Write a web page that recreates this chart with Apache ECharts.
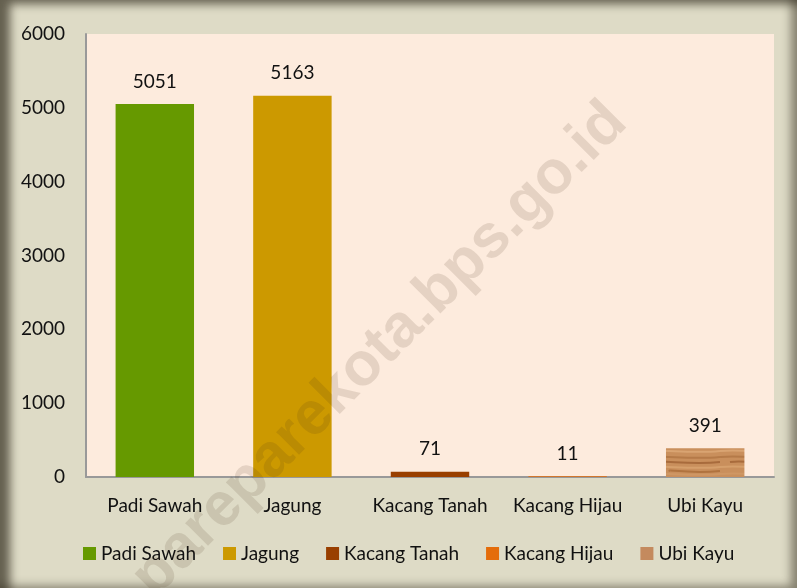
<!DOCTYPE html>
<html>
<head>
<meta charset="utf-8">
<script src="https://cdn.jsdelivr.net/npm/echarts@6/dist/echarts.min.js"></script>
<style>
  html, body { margin: 0; padding: 0; background: #fff; }
  #frame {
    width: 797px; height: 588px; position: relative; overflow: hidden;
    background: #dedbc6;
    box-shadow: inset 14px 8px 10px -4px rgba(60,55,40,0.75), inset -10px -6px 10px -4px rgba(60,55,40,0.55);
  }
  #main { position: absolute; left: 0; top: 0; width: 797px; height: 588px; }
</style>
</head>
<body>
<div id="frame"><div id="main"></div></div>
<script>
// data
var categories = ['Padi Sawah', 'Jagung', 'Kacang Tanah', 'Kacang Hijau', 'Ubi Kayu'];
var values = [5051, 5163, 71, 11, 391];
var yTicks = [0, 1000, 2000, 3000, 4000, 5000, 6000];

// wood-like texture for Ubi Kayu
function woodPattern() {
  var c = document.createElement('canvas');
  c.width = 80; c.height = 28;
  var g = c.getContext('2d');
  g.fillStyle = '#c98f5c';
  g.fillRect(0, 0, 80, 28);
  var streaks = [[0, 3, '#d9a472'], [0, 9, '#b57a48'], [10, 14, '#a86b3c'], [0, 19, '#d6a06c'], [30, 23, '#b0733f'], [0, 26, '#cf9764']];
  streaks.forEach(function(s) {
    g.strokeStyle = s[2];
    g.lineWidth = 2;
    g.beginPath();
    g.moveTo(s[0], s[1]);
    g.bezierCurveTo(25, s[1] - 2, 50, s[1] + 3, 80, s[1]);
    g.stroke();
  });
  return c;
}

var colors = ['#669900', '#cc9900', '#993f00', '#e46c0a', {image: woodPattern(), repeat: 'repeat'}];
var legendColors = ['#669900', '#cc9900', '#993f00', '#e46c0a', '#c48a5e'];

var FONT = 'Lato';
var FS = 19;

var series = categories.map(function(name, i) {
  var d = categories.map(function(c, j) { return j === i ? values[i] : '-'; });
  return {
    name: name,
    type: 'bar',
    stack: 'all',
    barWidth: '57%',
    data: d,
    itemStyle: { color: colors[i] },
    label: {
      show: true,
      position: 'top',
      distance: 13,
      color: '#111',
      fontSize: FS,
      fontFamily: FONT
    }
  };
});

var myChart = echarts.init(document.getElementById('main'), null, {renderer: 'canvas'});
var option = {
  backgroundColor: 'transparent',
  animation: false,
  color: legendColors,
  grid: {
    left: 86, right: 23, top: 34, bottom: 111,
    show: true,
    backgroundColor: '#fdebdd',
    borderWidth: 0
  },
  legend: {
    bottom: 20,
    left: 78,
    icon: 'rect',
    itemWidth: 13,
    itemHeight: 13,
    itemGap: 27,
    textStyle: { fontSize: FS, fontFamily: FONT, color: '#111' },
    data: categories.map(function(n, i) {
      return { name: n, itemStyle: { color: legendColors[i] } };
    })
  },
  xAxis: {
    type: 'category',
    data: categories,
    axisLine: { lineStyle: { color: '#999', width: 2 } },
    axisTick: { show: false },
    axisLabel: { color: '#111', fontSize: FS, fontFamily: FONT, margin: 19, interval: 0 }
  },
  yAxis: {
    type: 'value',
    min: yTicks[0],
    max: yTicks[yTicks.length - 1],
    interval: 1000,
    axisLine: { show: true, lineStyle: { color: '#999', width: 2 } },
    axisTick: { show: false },
    splitLine: { show: false },
    axisLabel: { color: '#111', fontSize: FS, fontFamily: FONT, margin: 21, formatter: function(v) { return String(v); } }
  },
  graphic: [{
    type: 'text',
    z: 100,
    x: 380, y: 350,
    rotation: Math.PI / 4,
    style: {
      text: 'pareparekota.bps.go.id',
      font: 'bold 61px "Liberation Sans", Arial, sans-serif',
      fill: 'rgba(70,45,20,0.13)',
      textAlign: 'center',
      textVerticalAlign: 'middle'
    }
  }],
  series: series
};
myChart.setOption(option);
</script>
</body>
</html>
